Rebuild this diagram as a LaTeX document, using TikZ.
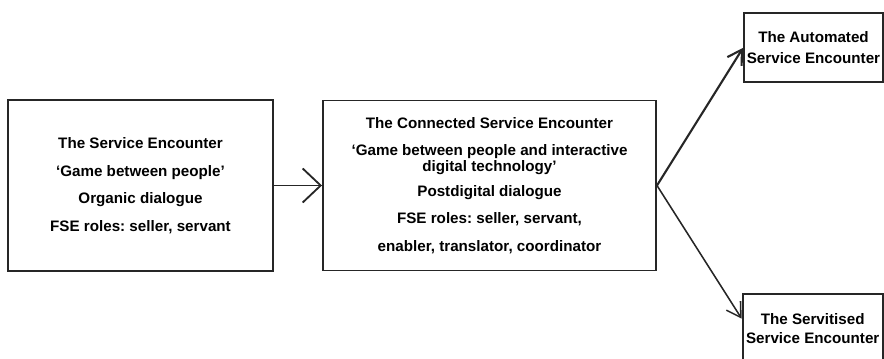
\documentclass[tikz,border=0pt]{standalone}
\usepackage{fontspec}
\setmainfont{Liberation Sans}
\usetikzlibrary{arrows.meta,positioning}
\frenchspacing

\tikzset{
  box/.style={draw=black!85, line width=1.4pt, align=center, inner sep=1pt,
    font=\bfseries\fontsize{10.8}{13}\selectfont},
  link/.style={draw=black!85, line width=1.3pt}
}

\begin{document}
\begin{tikzpicture}[node distance=8.7cm, on grid]
   \useasboundingbox (0,0) rectangle (22.1,-8.975);
   \node[box, minimum width=6.625cm, minimum height=4.275cm] (service) at (3.5125,-4.6375)
     {The Service Encounter\\[6.6pt] ‘Game between people’\\[6.6pt] Organic dialogue\\[6.6pt] FSE roles: seller, servant};
   \node[box, minimum width=8.325cm, minimum height=4.25cm] (connected) [right=8.725cm of service]
     {The Connected Service Encounter\\[6.6pt] ‘Game between people and interactive\\[-2pt] digital technology’\\[5pt]
      Postdigital dialogue\\[6.6pt] FSE roles: seller, servant,\\[6.6pt] enabler, translator, coordinator};
   \node[box, minimum width=3.475cm, minimum height=1.725cm] (automated) [above right=3.44cm and 8.1cm of connected]
     {The Automated\\[2pt] Service Encounter};
   \node[box, minimum width=3.5cm, minimum height=1.75cm] (servitised) [below right=3.58cm and 8.08cm of connected]
     {The Servitised\\[1pt] Service Encounter};
   \draw[link, -{Straight Barb[length=0.45cm, width=0.85cm]}] (service) -- (connected);
   \draw[link, line width=1.5pt, -{Straight Barb[length=0.35cm, width=0.42cm]}] (connected.east) -- (automated.west);
   \draw[link, line width=1.1pt, -{Straight Barb[length=0.35cm, width=0.42cm]}] (connected.east) -- (servitised.172);
\end{tikzpicture}
\end{document}
